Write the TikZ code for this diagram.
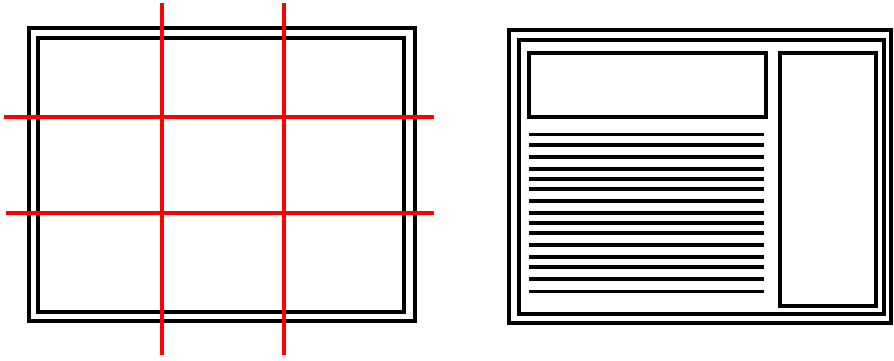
\documentclass[tikz,border=0pt]{standalone}
\usepackage{xcolor}
\usepackage{tikz}
\usetikzlibrary{positioning}
\definecolor{gridred}{RGB}{255,0,0}
\tikzset{
    % Black frame and box outlines
    frameline/.style={draw=black, line width=4pt},
    % Red rule-of-thirds lines
    thirdsline/.style={draw=gridred, line width=3.5pt},
    % Placeholder text lines
    textline/.style={draw=black, line width=3.6pt},
}

\begin{document}
\begin{tikzpicture}[x=1pt, y=-1pt]
\useasboundingbox (0,0) rectangle (894,360);

% ============================================================
% Left panel: frame with thirds grid
% ============================================================
\draw[frameline] (28.5,28) rectangle (414.7,321.3);
\draw[frameline] (38,38) rectangle (404.3,312);

\foreach \xx in {162,284}
    \draw[thirdsline] (\xx,3) -- (\xx,355);
\draw[thirdsline] (4,117) -- (434,117);
\draw[thirdsline] (6,213) -- (434,213);

% ============================================================
% Right panel: page layout
% ============================================================
\draw[frameline] (509,29.5) rectangle (891.2,322.7);
\draw[frameline] (518.7,40.3) rectangle (884.2,313.7);

% Header box and side column
\draw[frameline] (528.7,53) rectangle (766,116.5);
\draw[frameline] (780.3,53) rectangle (876,306);

% Body text lines
\foreach \yy in {134.5,145,156.7,168.8,179,189,200.8,213,223,233.2,245.2,257.2,267.2,279.2,291.4}
    \draw[textline] (529,\yy) -- (764,\yy);

\end{tikzpicture}
\end{document}
